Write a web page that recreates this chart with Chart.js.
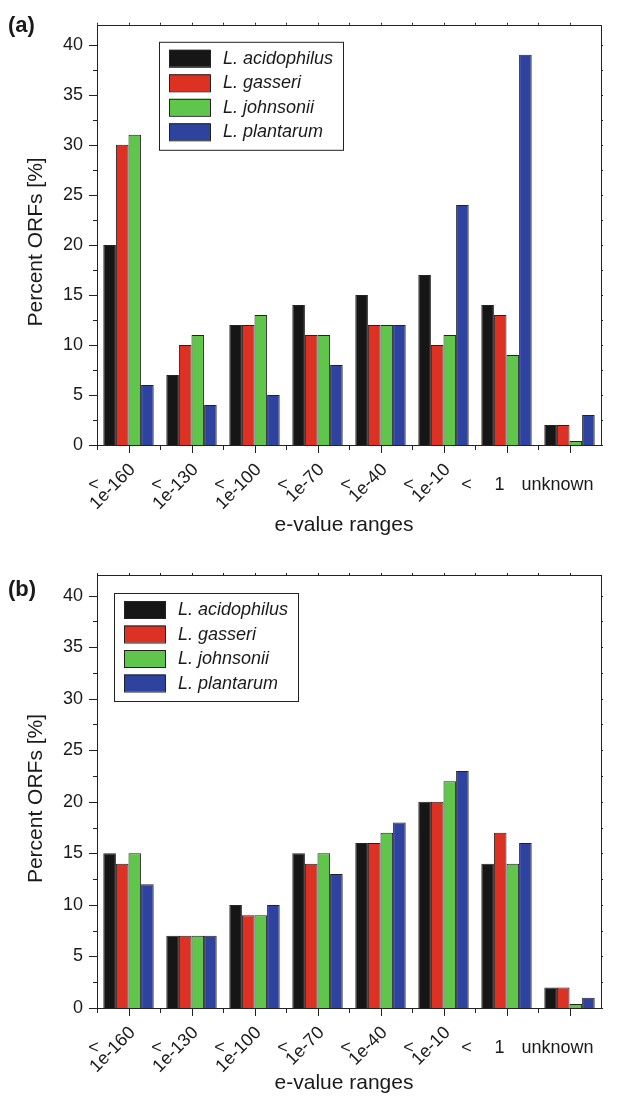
<!DOCTYPE html>
<html>
<head>
<meta charset="utf-8">
<script src="https://cdn.jsdelivr.net/npm/chart.js@4.4.1/dist/chart.umd.min.js"></script>
<style>
  body { margin: 0; background: #fff; }
  canvas { display: block; }
</style>
</head>
<body>
<canvas id="chartA" width="630" height="550"></canvas>
<canvas id="chartB" width="630" height="550"></canvas>
<script>
// e-value ranges (all but "unknown" are prefixed with "<")
const categories = ["1e-160", "1e-130", "1e-100", "1e-70", "1e-40", "1e-10", "1", "unknown"];
const species = ["L. acidophilus", "L. gasseri", "L. johnsonii", "L. plantarum"];
const speciesColors = ["#161616", "#dd3124", "#5fc64b", "#2e43a0"];
const yTicks = [0, 5, 10, 15, 20, 25, 30, 35, 40];

// panel (a)
const acidophilusA = [20, 7, 12, 14, 15, 17, 14, 2];
const gasseriA = [30, 10, 12, 11, 12, 10, 13, 2];
const johnsoniiA = [31, 11, 13, 11, 12, 11, 9, 0.4];
const plantarumA = [6, 4, 5, 8, 12, 24, 39, 3];

// panel (b)
const acidophilusB = [15, 7, 10, 15, 16, 20, 14, 2];
const gasseriB = [14, 7, 9, 14, 16, 20, 17, 2];
const johnsoniiB = [15, 7, 9, 15, 17, 22, 14, 0.4];
const plantarumB = [12, 7, 10, 13, 18, 23, 16, 1];

const fontName = '"Liberation Sans", Arial, Helvetica, sans-serif';

// Vẽ khung, vạch chia, nhãn trục x, tiêu đề và chú thích
const decorPlugin = {
  id: "decor",
  afterDraw(chart, args, opts) {
    const ctx = chart.ctx;
    const a = chart.chartArea;
    const x = chart.scales.x;
    const y = chart.scales.y;
    ctx.save();
    ctx.strokeStyle = "#222";
    ctx.lineWidth = 1;

    // khung
    ctx.strokeRect(Math.round(a.left) + 0.5, Math.round(a.top) + 0.5,
      Math.round(a.right - a.left), Math.round(a.bottom - a.top));

    // vạch trục y (trái và phải)
    ctx.beginPath();
    for (let v = 0; v <= 42; v += 2.5) {
      const py = Math.round(y.getPixelForValue(v)) + 0.5;
      const major = v % 5 === 0;
      ctx.moveTo(a.left - (major ? 8 : 4), py);
      ctx.lineTo(a.left, py);
      ctx.moveTo(a.right, py);
      ctx.lineTo(a.right + 2, py);
    }
    // vạch trục x (dưới và trên)
    const half = (x.getPixelForValue(1) - x.getPixelForValue(0)) / 2;
    for (let i = 0; i < categories.length; i++) {
      const cx = Math.round(x.getPixelForValue(i)) + 0.5;
      ctx.moveTo(cx, a.bottom);
      ctx.lineTo(cx, a.bottom + 8);
      ctx.moveTo(cx, a.top);
      ctx.lineTo(cx, a.top - 2);
      const bx = Math.round(x.getPixelForValue(i) - half) + 0.5;
      ctx.moveTo(bx, a.bottom);
      ctx.lineTo(bx, a.bottom + 5);
      ctx.moveTo(bx, a.top);
      ctx.lineTo(bx, a.top - 2);
    }
    ctx.stroke();

    // nhãn trục x
    ctx.fillStyle = "#1a1a1a";
    ctx.font = "18px " + fontName;
    categories.forEach((c, i) => {
      const cx = x.getPixelForValue(i);
      const by = a.bottom;
      ctx.textAlign = "center";
      ctx.textBaseline = "middle";
      if (i < 6) {
        ctx.fillText("<", cx - 35, by + 40);
        ctx.save();
        ctx.translate(cx + 4, by + 22);
        ctx.rotate(-Math.PI / 4);
        ctx.textAlign = "right";
        ctx.fillText(c, 0, 0);
        ctx.restore();
      } else if (i === 6) {
        ctx.fillText("<", cx - 40, by + 40);
        ctx.fillText(c, cx - 7, by + 40);
      } else {
        ctx.fillText(c, cx - 12, by + 40);
      }
    });

    // tiêu đề trục
    ctx.font = "21px " + fontName;
    ctx.textAlign = "center";
    ctx.textBaseline = "middle";
    ctx.fillText("e-value ranges", (a.left + a.right) / 2 - 5, opts.xTitleY);
    ctx.save();
    ctx.translate(36, (a.top + a.bottom) / 2 + 7);
    ctx.rotate(-Math.PI / 2);
    ctx.fillText("Percent ORFs [%]", 0, 0);
    ctx.restore();

    // nhãn bảng (a)/(b)
    ctx.font = "bold 22px " + fontName;
    ctx.textAlign = "left";
    ctx.fillText(opts.panel, 8, opts.panelY);

    // chú thích
    const lx = a.left + opts.legendX;
    const ly = a.top + opts.legendY;
    ctx.fillStyle = "#fff";
    ctx.fillRect(lx, ly, 184, 108);
    ctx.strokeStyle = "#222";
    ctx.strokeRect(lx + 0.5, ly + 0.5, 184, 108);
    ctx.font = "italic 18px " + fontName;
    ctx.textAlign = "left";
    chart.data.datasets.forEach((ds, i) => {
      const sy = ly + 8 + i * 24.5;
      ctx.fillStyle = ds.backgroundColor;
      ctx.fillRect(lx + 10, sy, 41, 17);
      ctx.strokeStyle = "#222";
      ctx.strokeRect(lx + 10.5, sy + 0.5, 41, 17);
      ctx.fillStyle = "#1a1a1a";
      ctx.fillText(ds.label, lx + 64, sy + 9);
    });
    ctx.restore();
  },
};

function makeChart(id, series, cfg) {
  const ctx = document.getElementById(id).getContext("2d");
  return new Chart(ctx, {
    type: "bar",
    data: {
      labels: categories,
      datasets: series.map((data, i) => ({
        label: species[i],
        data: data,
        backgroundColor: speciesColors[i],
        borderColor: "#222",
        borderWidth: 1,
        borderSkipped: "bottom",
        categoryPercentage: 0.8,
        barPercentage: 1.0,
      })),
    },
    options: {
      responsive: false,
      animation: false,
      devicePixelRatio: 1,
      layout: { padding: { top: cfg.top, right: 29, left: 0, bottom: 0 } },
      plugins: {
        legend: { display: false },
        tooltip: { enabled: false },
        decor: cfg,
      },
      scales: {
        x: {
          grid: { display: false, drawTicks: false },
          border: { display: false },
          ticks: { display: false },
          afterFit: (s) => { s.height = 550 - cfg.bottom; },
        },
        y: {
          min: 0,
          max: 42,
          grid: { display: false, drawTicks: false },
          border: { display: false },
          afterBuildTicks: (s) => {
            s.ticks = yTicks.map((v) => ({ value: v }));
          },
          ticks: {
            padding: 14,
            color: "#1a1a1a",
            font: { family: fontName, size: 18 },
          },
          afterFit: (s) => { s.width = 97; },
        },
      },
    },
    plugins: [decorPlugin],
  });
}

makeChart("chartA", [acidophilusA, gasseriA, johnsoniiA, plantarumA], {
  top: 12, bottom: 445, xTitleY: 525, panel: "(a)", panelY: 26, legendX: 62, legendY: 17,
});
makeChart("chartB", [acidophilusB, gasseriB, johnsoniiB, plantarumB], {
  top: 25, bottom: 458, xTitleY: 533, panel: "(b)", panelY: 40, legendX: 17, legendY: 18,
});
</script>
</body>
</html>
